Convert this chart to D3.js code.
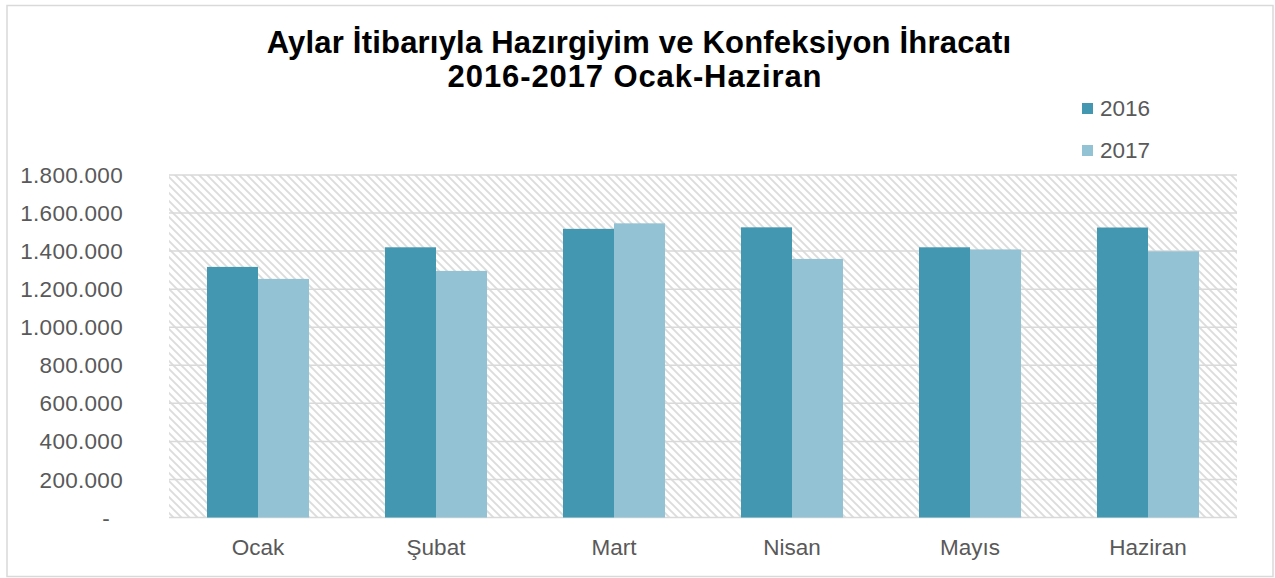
<!DOCTYPE html>
<html>
<head>
<meta charset="utf-8">
<script src="https://cdn.jsdelivr.net/npm/d3@7"></script>
<style>
  body { margin: 0; background: #fff; }
  text { font-family: "Liberation Sans", Arial, sans-serif; }
</style>
</head>
<body>
<div id="chart"></div>
<script>
const months = ["Ocak", "Şubat", "Mart", "Nisan", "Mayıs", "Haziran"];
const series = ["2016", "2017"];
const values2016 = [1317000, 1420000, 1517000, 1525000, 1420000, 1524000];
const values2017 = [1254000, 1296000, 1546000, 1359000, 1409000, 1399000];
const yTicks = [0, 200000, 400000, 600000, 800000, 1000000, 1200000, 1400000, 1600000, 1800000];
const colors = ["#4397b0", "#93c2d4"];

const width = 1275, height = 578;
const plot = { left: 169, right: 1237, top: 175, bottom: 517.5 };

const svg = d3.select("#chart").append("svg")
    .attr("width", width)
    .attr("height", height);

// hatch pattern for the plot area
const pat = svg.append("defs").append("pattern")
    .attr("id", "hatch")
    .attr("patternUnits", "userSpaceOnUse")
    .attr("width", 8).attr("height", 8);
pat.append("rect").attr("width", 8).attr("height", 8).attr("fill", "#fff");
pat.append("path")
    .attr("d", "M-2,-2 L10,10 M-2,6 L2,10 M6,-2 L10,2")
    .attr("stroke", "#dcdcdc")
    .attr("stroke-width", 1.9);

// outer chart border
svg.append("rect")
    .attr("x", 7).attr("y", 5.5)
    .attr("width", 1266).attr("height", 571)
    .attr("fill", "none")
    .attr("stroke", "#d9d9d9")
    .attr("stroke-width", 1.5);

const x0 = d3.scaleBand().domain(months).range([plot.left, plot.right]).padding(0);
const x1 = d3.scaleBand().domain(series).range([0, x0.bandwidth()])
    .paddingInner(0).paddingOuter(0.745);
const y = d3.scaleLinear().domain([0, 1800000]).range([plot.bottom, plot.top]);

svg.append("rect")
    .attr("x", plot.left).attr("y", plot.top)
    .attr("width", plot.right - plot.left)
    .attr("height", plot.bottom - plot.top)
    .attr("fill", "url(#hatch)");

// gridlines
svg.append("g").selectAll("line")
    .data(yTicks)
    .join("line")
    .attr("x1", plot.left).attr("x2", plot.right)
    .attr("y1", d => y(d)).attr("y2", d => y(d))
    .attr("stroke", "#d9d9d9")
    .attr("stroke-width", 1.5);

// y labels
const fmt = d => d === 0 ? "-" : d3.format(",")(d).replace(/,/g, ".");
svg.append("g").selectAll("text")
    .data(yTicks)
    .join("text")
    .attr("x", d => d === 0 ? 110 : 123)
    .attr("y", d => y(d))
    .attr("dy", "0.36em")
    .attr("text-anchor", "end")
    .attr("fill", "#595959")
    .attr("font-size", 22.5)
    .attr("letter-spacing", 0.3)
    .text(fmt);

// bars
const data = months.map((m, i) => ({ month: m, vals: [values2016[i], values2017[i]] }));
const groups = svg.append("g").selectAll("g")
    .data(data)
    .join("g")
    .attr("transform", d => `translate(${x0(d.month)},0)`);
groups.selectAll("rect")
    .data(d => d.vals.map((v, j) => ({ key: series[j], v, j })))
    .join("rect")
    .attr("x", d => x1(d.key))
    .attr("width", x1.bandwidth())
    .attr("y", d => y(d.v))
    .attr("height", d => y(0) - y(d.v))
    .attr("fill", d => colors[d.j]);

// x labels
svg.append("g").selectAll("text")
    .data(months)
    .join("text")
    .attr("x", d => x0(d) + x0.bandwidth() / 2)
    .attr("y", 555)
    .attr("text-anchor", "middle")
    .attr("fill", "#595959")
    .attr("font-size", 22.5)
    .text(d => d);

// title
const title = svg.append("text")
    .attr("text-anchor", "middle")
    .attr("font-size", 31)
    .attr("font-weight", "bold")
    .attr("fill", "#000");
title.append("tspan").attr("x", 639).attr("y", 53)
    .attr("letter-spacing", 0.2)
    .text("Aylar İtibarıyla Hazırgiyim ve Konfeksiyon İhracatı");
title.append("tspan").attr("x", 635).attr("y", 87)
    .attr("letter-spacing", 0.9)
    .text("2016-2017 Ocak-Haziran");

// legend
const legend = svg.append("g").selectAll("g")
    .data(series)
    .join("g")
    .attr("transform", (d, i) => `translate(1082,${103 + i * 42})`);
legend.append("rect")
    .attr("width", 11).attr("height", 11)
    .attr("fill", (d, i) => colors[i]);
legend.append("text")
    .attr("x", 18).attr("y", 13)
    .attr("fill", "#595959")
    .attr("font-size", 22.5)
    .text(d => d);
</script>
</body>
</html>
